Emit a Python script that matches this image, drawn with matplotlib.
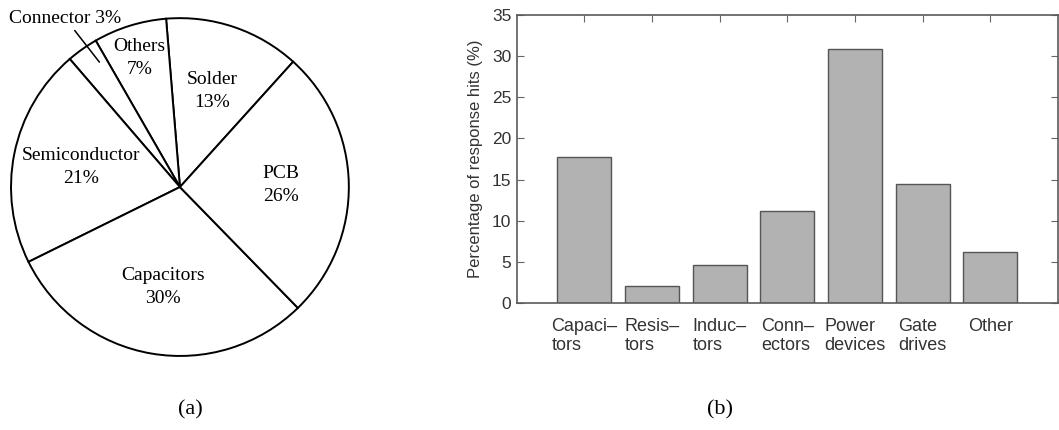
import numpy as np
import matplotlib
matplotlib.use("Agg")
from matplotlib import pyplot as plt

# (a) pie data, counter-clockwise from the Solder wedge
pie_labels = ["Solder", "Others", "Connector", "Semiconductor", "Capacitors", "PCB"]
pie_values = [13, 7, 3, 21, 30, 26]

# (b) bar data
bar_labels = ["Capaci\u2013\ntors", "Resis\u2013\ntors", "Induc\u2013\ntors",
              "Conn\u2013\nectors", "Power\ndevices", "Gate\ndrives", "Other"]
bar_values = [17.8, 2.1, 4.6, 11.2, 30.9, 14.5, 6.2]
y_ticks = [0, 5, 10, 15, 20, 25, 30, 35]

SERIF = "Liberation Serif"
SANS = "Liberation Sans"


def main():
    fig = plt.figure(figsize=(10.59, 4.30), dpi=100)

    # ---- pie ----
    axP = fig.add_axes([0.0104, 0.172, 0.319, 0.786])
    texts = [f"{n}\n{v}%" for n, v in zip(pie_labels, pie_values)]
    texts[2] = ""
    wedges, lbls = axP.pie(pie_values, labels=texts, startangle=47.9, counterclock=True,
                           colors=["white"] * len(pie_values), labeldistance=0.6,
                           wedgeprops=dict(edgecolor="black", linewidth=1.4),
                           textprops=dict(family=SERIF, fontsize=14))
    for w, t in zip(wedges, lbls):
        t.set_ha("center")
        t.set_va("center")
        t.set_multialignment("center")
        t.set_linespacing(1.45)
    # the thin "Others" wedge gets its label further out
    w = wedges[1]
    mid = np.deg2rad((w.theta1 + w.theta2) / 2)
    lbls[1].set_position((0.8 * np.cos(mid), 0.8 * np.sin(mid)))
    # connector label sits outside with a leader line
    w = wedges[2]
    mid = np.deg2rad((w.theta1 + w.theta2) / 2 - 2.5)
    axP.annotate(f"{pie_labels[2]} {pie_values[2]}%",
                 xy=(0.88 * np.cos(mid), 0.88 * np.sin(mid)), xytext=(-0.68, 1.0),
                 ha="center", va="center", family=SERIF, fontsize=14,
                 arrowprops=dict(arrowstyle="-", color="black", lw=1.1,
                                 shrinkA=1, shrinkB=0))
    axP.set_xlim(-1, 1)
    axP.set_ylim(-1, 1)

    # ---- bars ----
    ax = fig.add_axes([0.488, 0.2953, 0.511, 0.6698])
    x = np.arange(1, len(bar_values) + 1)
    ax.bar(x, bar_values, width=0.8, color="#b2b2b2", edgecolor="#555555", linewidth=1.0)
    ax.set_xlim(0, 8)
    ax.set_ylim(0, 35)
    ax.set_yticks(y_ticks)
    ax.set_xticks(x)
    ax.set_xticklabels(bar_labels, family=SANS, fontsize=13, color="#333333",
                       multialignment="left", va="top", linespacing=1.15)
    ax.tick_params(axis="x", direction="in", top=True, bottom=False, length=5,
                   color="#666666", pad=11)
    ax.tick_params(axis="y", direction="in", right=True, length=5, color="#666666",
                   labelsize=12.5, labelcolor="#333333", pad=4)
    for lab in ax.get_yticklabels():
        lab.set_family(SANS)
    for s in ax.spines.values():
        s.set_color("#5a5a5a")
        s.set_linewidth(1.2)
    ax.set_ylabel("Percentage of response hits (%)", family=SANS, fontsize=12,
                  color="#333333", labelpad=6)

    fig.text(190 / 1059, 1 - 410 / 430, "(a)", family=SERIF, fontsize=16,
             ha="center", va="center")
    fig.text(720 / 1059, 1 - 410 / 430, "(b)", family=SERIF, fontsize=16,
             ha="center", va="center")

    fig.savefig("out.png", dpi=100)


if __name__ == "__main__":
    main()
